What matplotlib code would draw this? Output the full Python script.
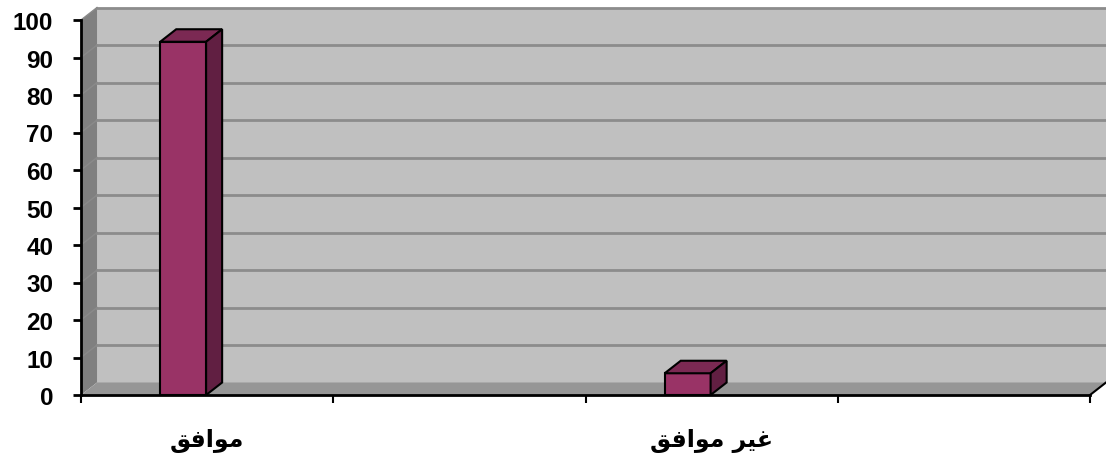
import numpy as np
import matplotlib
matplotlib.use("Agg")
import matplotlib.pyplot as plt
from matplotlib.patches import Polygon

# data
categories = ["موافق", "", "غير موافق", ""]
values = [94.2, np.nan, 5.8, np.nan]
yticks = list(range(0, 101, 10))

# arabic letters used in the labels: isolated, final, initial, medial
FORMS = {
    "ا": ("\ufe8d", "\ufe8e", None, None),
    "ر": ("\ufead", "\ufeae", None, None),
    "و": ("\ufeed", "\ufeee", None, None),
    "غ": ("\ufecd", "\ufece", "\ufecf", "\ufed0"),
    "ف": ("\ufed1", "\ufed2", "\ufed3", "\ufed4"),
    "ق": ("\ufed5", "\ufed6", "\ufed7", "\ufed8"),
    "م": ("\ufee1", "\ufee2", "\ufee3", "\ufee4"),
    "ي": ("\ufef1", "\ufef2", "\ufef3", "\ufef4"),
}

def shape(text):
    out = []
    for i, ch in enumerate(text):
        if ch not in FORMS:
            out.append(ch)
            continue
        prev = text[i-1] if i > 0 else ""
        nxt = text[i+1] if i+1 < len(text) else ""
        join_prev = prev in FORMS and FORMS[prev][2] is not None
        join_next = nxt in FORMS and FORMS[ch][2] is not None
        iso, fin, ini, med = FORMS[ch]
        if join_prev and join_next:
            out.append(med)
        elif join_prev:
            out.append(fin)
        elif join_next:
            out.append(ini)
        else:
            out.append(iso)
    return "".join(reversed(out))

W, H = 1106, 456
fig = plt.figure(figsize=(W/100, H/100), dpi=100)
ax = fig.add_axes([81/W, 60/H, (1090-81)/W, 375/H])
ax.set_xlim(-0.5, len(categories)-0.5)
ax.set_ylim(0, 100)
ax.patch.set_alpha(0)

# depth of the 3d box in data units
dx = 16/252
dy = 12.5/3.75
x0, x1 = -0.5, len(categories)-0.5

wall = Polygon([(x0+dx, dy), (x1+dx, dy), (x1+dx, 100+dy), (x0+dx, 100+dy)],
               closed=True, fc="#c0c0c0", ec="none", zorder=0, clip_on=False)
side = Polygon([(x0, 0), (x0+dx, dy), (x0+dx, 100+dy), (x0, 100)],
               closed=True, fc="#808080", ec="none", zorder=0, clip_on=False)
floor = Polygon([(x0, 0), (x1, 0), (x1+dx, dy), (x0+dx, dy)],
                closed=True, fc="#969696", ec="none", zorder=1, clip_on=False)
ax.add_patch(wall)
ax.add_patch(side)
ax.add_patch(floor)
ax.plot([x1, x1+dx], [0, dy], color="black", lw=1.5, zorder=1, clip_on=False)

for v in yticks[1:]:
    ax.plot([x0+dx, x1+dx], [v+dy, v+dy], color="#8c8c8c", lw=2, zorder=0.5, clip_on=False)
    ax.plot([x0, x0+dx], [v, v+dy], color="#8a8a8a", lw=1, zorder=0.5, clip_on=False)

# 3d columns
xs = np.arange(len(categories))
bw = 0.182
off = -0.095
for x, v in zip(xs, values):
    if np.isnan(v):
        continue
    l = x + off - bw/2
    r = x + off + bw/2
    ax.bar(l, v, width=bw, align="edge", color="#993366", edgecolor="black", lw=1.5,
           joinstyle="miter", zorder=3)
    top = Polygon([(l, v), (r, v), (r+dx, v+dy), (l+dx, v+dy)], closed=True,
                  fc="#7b2953", ec="black", lw=1.5, joinstyle="miter", zorder=3, clip_on=False)
    rside = Polygon([(r, 0), (r+dx, dy), (r+dx, v+dy), (r, v)], closed=True,
                    fc="#611f42", ec="black", lw=1.5, joinstyle="miter", zorder=3, clip_on=False)
    ax.add_patch(top)
    ax.add_patch(rside)

for s in ["top", "right"]:
    ax.spines[s].set_visible(False)
for s in ["left", "bottom"]:
    ax.spines[s].set_color("black")
    ax.spines[s].set_linewidth(2)
    ax.spines[s].set_zorder(5)

ax.set_yticks(yticks)
ax.set_yticklabels([str(t) for t in yticks], fontsize=17.5, fontweight="bold",
                   family="Liberation Sans")
ax.tick_params(axis="y", direction="out", length=6, width=2, pad=14)

ax.set_xticks(xs)
ax.set_xticklabels([shape(c) for c in categories], fontsize=17, fontweight="bold",
                   family=["DejaVu Sans"])
ax.set_xticks(np.arange(len(categories)+1) - 0.5, minor=True)
ax.tick_params(axis="x", which="major", length=0, pad=24)
ax.tick_params(axis="x", which="minor", direction="out", length=6, width=1.5)

fig.savefig("out.png", dpi=100, facecolor="white")
